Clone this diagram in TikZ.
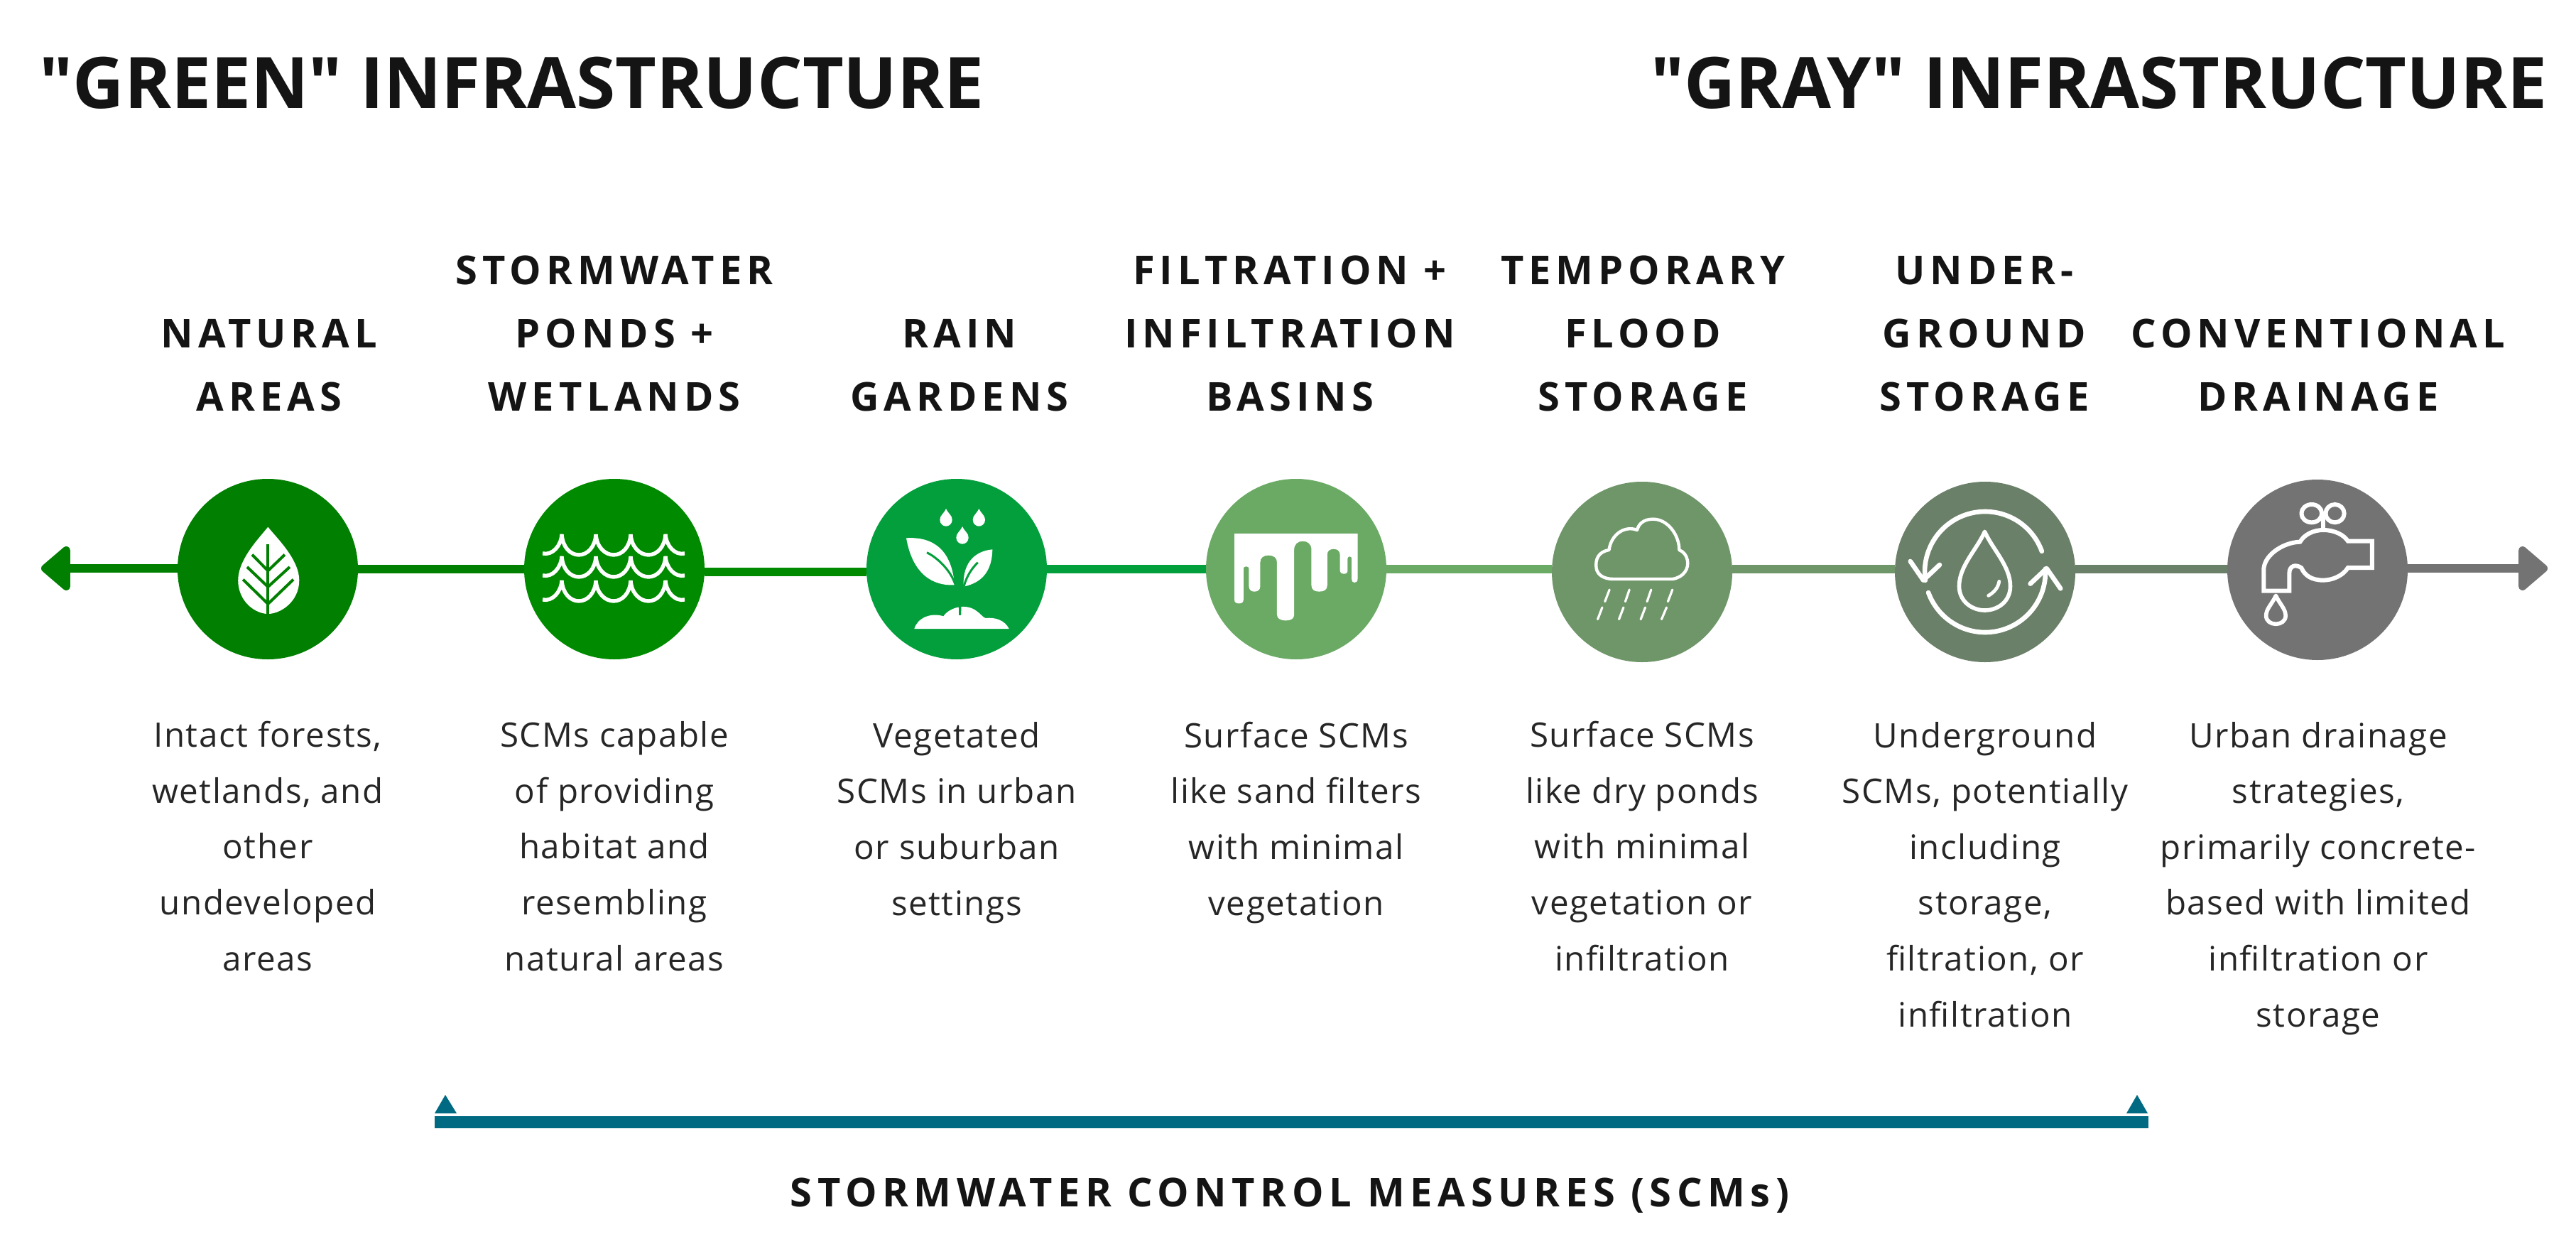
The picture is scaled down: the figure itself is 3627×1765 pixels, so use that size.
\documentclass[tikz,border=0pt]{standalone}
\usepackage{fontspec}
\setmainfont{Open Sans}
\newfontfamily\plainfont{Open Sans}
\usetikzlibrary{arrows.meta}
\definecolor{cA}{HTML}{007F00}
\definecolor{cB}{HTML}{008A00}
\definecolor{cC}{HTML}{039F3C}
\definecolor{cD}{HTML}{6AAA64}
\definecolor{cE}{HTML}{6F9669}
\definecolor{cF}{HTML}{6B8068}
\definecolor{cG}{HTML}{737373}
\definecolor{cH}{HTML}{006A82}
\definecolor{ink}{HTML}{141414}
\definecolor{bodyink}{HTML}{262626}
\tikzset{
  disc/.style={circle,minimum size=127pt,inner sep=0pt,outer sep=0pt,fill=#1},
  seg/.style={line width=6.2pt,draw=#1},
  titletext/.style={inner sep=0pt,text=ink,font=\plainfont\fontsize{50}{60}\selectfont\bfseries},
  headtext/.style={inner sep=0pt,align=center,text=ink,font=\fontsize{28}{44.5}\selectfont\bfseries\addfontfeature{LetterSpace=12.5}},
  foottext/.style={inner sep=0pt,align=center,text=ink,font=\fontsize{28}{44.5}\selectfont\bfseries\addfontfeature{LetterSpace=13.6}},
  bodytext/.style={inner sep=0pt,align=center,text=bodyink,font=\fontsize{23.75}{39.3}\selectfont\addfontfeature{LetterSpace=3.3}},
  whiteline/.style={draw=white,line width=#1,line cap=round,line join=round},
  whiteline/.default=3.3pt,
  zoomA/.style={shift={(#1,640)},x=0.3189pt,y=-0.16667pt},
  zoomB/.style={shift={(#1,640)},x=0.3274pt,y=-0.16667pt},
  zoomC/.style={shift={(1180,660)},x=0.16667pt,y=-0.16667pt},
}
\begin{document}
\begin{tikzpicture}[x=0.5pt,y=-0.5pt]
\useasboundingbox (0,0) rectangle (3627,1765);
% titles
\node[titletext,anchor=base west] (tg) at (55,153) {"GREEN" INFRASTRUCTURE};
\node[titletext,anchor=base east] (ty) at (3587,153) {"GRAY" INFRASTRUCTURE};
% circles
\node[disc=cA] (c1) at (377,801) {};
\node[disc=cB] (c2) at (865,801) {};
\node[disc=cC] (c3) at (1347,801) {};
\node[disc=cD] (c4) at (1825,801) {};
\node[disc=cE] (c5) at (2312,805) {};
\node[disc=cF] (c6) at (2795,805) {};
\node[disc=cG] (c7) at (3263,802) {};
\coordinate (la) at (58,800);
\coordinate (ra) at (3587,800);
% connectors
\draw[seg=cA,-{Triangle[length=22pt,width=36pt,round]}] ([yshift=0.5pt]c1.west) -- (la);
\draw[seg=cA] (c1.east) -- (c2.west);
\draw[seg=cB] ([yshift=-2pt]c2.east) -- ([yshift=-2pt]c3.west);
\draw[seg=cC] (c3.east) -- (c4.west);
\draw[seg=cD] (c4.east) -- ([yshift=2pt]c5.west);
\draw[seg=cE] ([yshift=2pt]c5.east) -- ([yshift=2pt]c6.west);
\draw[seg=cF] ([yshift=2pt]c6.east) -- ([yshift=0.5pt]c7.west);
\draw[seg=cG,-{Triangle[length=22pt,width=36pt,round]}] ([yshift=1pt]c7.east) -- (ra);
% leaf
\begin{scope}[zoomA=200]
\fill[white] (278,305) .. controls (262,345) and (212,440) .. (212,530)
  .. controls (212,620) and (250,672) .. (278,672)
  .. controls (306,672) and (347,620) .. (347,530)
  .. controls (347,440) and (294,345) .. cycle;
\draw[cA,line width=2pt] (278,378) -- (278,676);
\draw[cA,line width=2pt] (243,422) -- (278,490) -- (315,422);
\draw[cA,line width=2pt] (232,474) -- (278,558) -- (326,474);
\draw[cA,line width=2pt] (223,527) -- (278,630) -- (334,527);
\end{scope}
% waves
\foreach \t in {752,783,817}{
\begin{scope}[shift={(0,\t)}]
\draw[draw=white,line width=2.7pt,line join=miter] (764,27)
  .. controls (778,30) and (790,16) .. (791,0)
  .. controls (792,18) and (803,29) .. (815,29)
  .. controls (827,29) and (838,18) .. (839,0)
  .. controls (840,18) and (852,29) .. (864,29)
  .. controls (876,29) and (887,18) .. (888,0)
  .. controls (889,18) and (901,29) .. (913,29)
  .. controls (925,29) and (936,18) .. (937,0)
  .. controls (938,16) and (950,30) .. (964,27);
\end{scope}}
% plant
\begin{scope}[zoomC]
\foreach \dx/\dy in {456/168,595/168,525/243}{
\begin{scope}[shift={(\dx,\dy)}]
\fill[white] (0,0) .. controls (-10,22) and (-26,28) .. (-26,47)
  .. controls (-26,64) and (-12,74) .. (0,74)
  .. controls (12,74) and (26,64) .. (26,47)
  .. controls (26,28) and (10,22) .. cycle;
\end{scope}}
\fill[white] (288,292) .. controls (400,285) and (480,340) .. (492,490)
  .. controls (400,495) and (315,445) .. cycle;
\fill[white] (652,340) .. controls (590,345) and (525,385) .. (530,497)
  .. controls (610,480) and (650,430) .. cycle;
\fill[white] (322,675) .. controls (335,630) and (390,605) .. (445,622)
  .. controls (470,585) and (540,565) .. (585,600)
  .. controls (600,610) and (610,625) .. (622,630)
  .. controls (665,625) and (705,640) .. (722,675) -- cycle;
\draw[cC,line width=1.5pt] (375,353) .. controls (420,375) and (470,425) .. (490,475)
  .. controls (505,510) and (515,540) .. (515,617);
\draw[cC,line width=1.5pt] (590,395) .. controls (565,420) and (545,450) .. (533,490)
  .. controls (522,520) and (515,540) .. (515,617);
\end{scope}
% filter basin
\begin{scope}[zoomA=1650]
\fill[white] (138,333) -- (138,612) .. controls (138,624) and (142,628) .. (148,628)
  .. controls (154,628) and (158,624) .. (158,612) -- (158,482)
  .. controls (158,474) and (160,472) .. (164,472) .. controls (168,472) and (170,474) .. (170,482)
  -- (170,555) .. controls (170,570) and (175,578) .. (182,578) .. controls (190,578) and (195,570) .. (195,555)
  -- (195,455) .. controls (195,435) and (202,425) .. (213,425) .. controls (225,425) and (232,435) .. (232,455)
  -- (232,675) .. controls (232,692) and (240,700) .. (252,700) .. controls (263,700) and (270,692) .. (270,675)
  -- (270,400) .. controls (270,378) and (278,365) .. (289,365) .. controls (300,365) and (308,378) .. (308,400)
  -- (308,552) .. controls (308,570) and (315,578) .. (325,578) .. controls (336,578) and (343,570) .. (343,552)
  -- (343,422) .. controls (343,406) and (349,398) .. (357,398) .. controls (365,398) and (371,406) .. (371,422)
  -- (371,488) .. controls (371,498) and (375,503) .. (380,503) .. controls (385,503) and (388,498) .. (388,488)
  -- (388,438) .. controls (388,432) and (390,430) .. (392,430) .. controls (395,430) and (397,432) .. (397,438)
  -- (397,525) .. controls (397,535) and (400,540) .. (403,540) .. controls (407,540) and (410,535) .. (410,525)
  -- (410,333) -- cycle;
\end{scope}
% rain cloud
\begin{scope}[zoomA=1650]
\draw[whiteline=2.2pt] (975,525) -- (1105,525)
  .. controls (1130,518) and (1142,480) .. (1138,445)
  .. controls (1136,425) and (1130,410) .. (1120,402)
  .. controls (1120,340) and (1095,272) .. (1062,272)
  .. controls (1040,272) and (1030,295) .. (1027,318)
  .. controls (1000,298) and (970,335) .. (965,402)
  .. controls (942,410) and (934,440) .. (937,480)
  .. controls (940,510) and (955,525) .. cycle;
\foreach \ax/\ay/\bx/\by in {966/570/956/620,1010/570/1001/620,1058/570/1049/620,1105/570/1095/620,950/645/940/695,997/645/987/695,1045/645/1035/695,1092/645/1081/695}
  \draw[whiteline=1.6pt] (\ax,\ay) -- (\bx,\by);
\end{scope}
% cycle and drop
\foreach \a/\b in {172/340,357/520}{
\draw[whiteline] plot[domain=\a:\b,samples=50,smooth] ({2795+85*cos(\x)},{805+85*sin(\x)});}
\begin{scope}[zoomB=2600]
\draw[whiteline] (137,450) -- (165,530) -- (200,465);
\draw[whiteline] (395,545) -- (430,480) -- (460,565);
\draw[whiteline=2.8pt] (297,325) .. controls (280,400) and (242,470) .. (242,555)
  .. controls (242,620) and (270,657) .. (297,657)
  .. controls (325,657) and (352,620) .. (352,555)
  .. controls (352,470) and (314,400) .. cycle;
\draw[whiteline=2.4pt] (328,535) .. controls (326,560) and (318,580) .. (305,595);
\end{scope}
% faucet
\begin{scope}[zoomB=2600]
\draw[whiteline=3pt] (1000,248) ellipse [x radius=22,y radius=38];
\draw[whiteline=3pt] (1050,248) ellipse [x radius=20,y radius=38];
\draw[whiteline=3pt] (1025,248) -- (1025,318);
\draw[whiteline=3pt,line join=miter] (897,575) -- (897,480)
  .. controls (900,420) and (940,370) .. (975,368)
  .. controls (985,335) and (1005,318) .. (1025,318)
  .. controls (1050,318) and (1070,340) .. (1078,365)
  -- (1130,365) -- (1130,477) -- (1078,477)
  .. controls (1068,510) and (1045,530) .. (1025,530)
  .. controls (1000,530) and (985,510) .. (978,478)
  .. controls (965,460) and (952,470) .. (952,500) -- (952,575) -- cycle;
\draw[whiteline=2.8pt] (923,595) .. controls (915,630) and (902,650) .. (902,680)
  .. controls (902,702) and (912,715) .. (923,715)
  .. controls (934,715) and (944,702) .. (944,680)
  .. controls (944,650) and (931,630) .. cycle;
\end{scope}
% headings
\node[headtext,anchor=base] (h1) at (379,578) {NATURAL\\AREAS};
\node[headtext,anchor=base] (h2) at (865,578) {STORMWATER\\PONDS +\\WETLANDS};
\node[headtext,anchor=base] (h3) at (1351,578) {RAIN\\GARDENS};
\node[headtext,anchor=base] (h4) at (1816,578) {FILTRATION +\\INFILTRATION\\BASINS};
\node[headtext,anchor=base] (h5) at (2313,578) {TEMPORARY\\FLOOD\\STORAGE};
\node[headtext,anchor=base] (h6) at (2794,578) {UNDER-\\GROUND\\STORAGE};
\node[headtext,anchor=base] (h7) at (3264,578) {CONVENTIONAL\\DRAINAGE};
% descriptions
\node[bodytext,anchor=base] (b1) at (377,1366) {Intact forests,\\wetlands, and\\other\\undeveloped\\areas};
\node[bodytext,anchor=base] (b2) at (865,1366) {SCMs capable\\of providing\\habitat and\\resembling\\natural areas};
\node[bodytext,anchor=base] (b3) at (1347,1288) {Vegetated\\SCMs in urban\\or suburban\\settings};
\node[bodytext,anchor=base] (b4) at (1825,1288) {Surface SCMs\\like sand filters\\with minimal\\vegetation};
\node[bodytext,anchor=base] (b5) at (2312,1366) {Surface SCMs\\like dry ponds\\with minimal\\vegetation or\\infiltration};
\node[bodytext,anchor=base] (b6) at (2795,1445) {Underground\\SCMs, potentially\\including\\storage,\\filtration, or\\infiltration};
\node[bodytext,anchor=base] (b7) at (3264,1445) {Urban drainage\\strategies,\\primarily concrete-\\based with limited\\infiltration or\\storage};
% bottom bracket
\fill[cH] (612,1571) rectangle (3025,1588);
\fill[cH] (612,1567) -- (627,1541) -- (643,1567) -- cycle;
\fill[cH] (2994,1567) -- (3009,1541) -- (3024,1567) -- cycle;
\node[foottext,anchor=base] (bt) at (1816,1698) {STORMWATER CONTROL MEASURES (SCMs)};
\end{tikzpicture}
\end{document}
